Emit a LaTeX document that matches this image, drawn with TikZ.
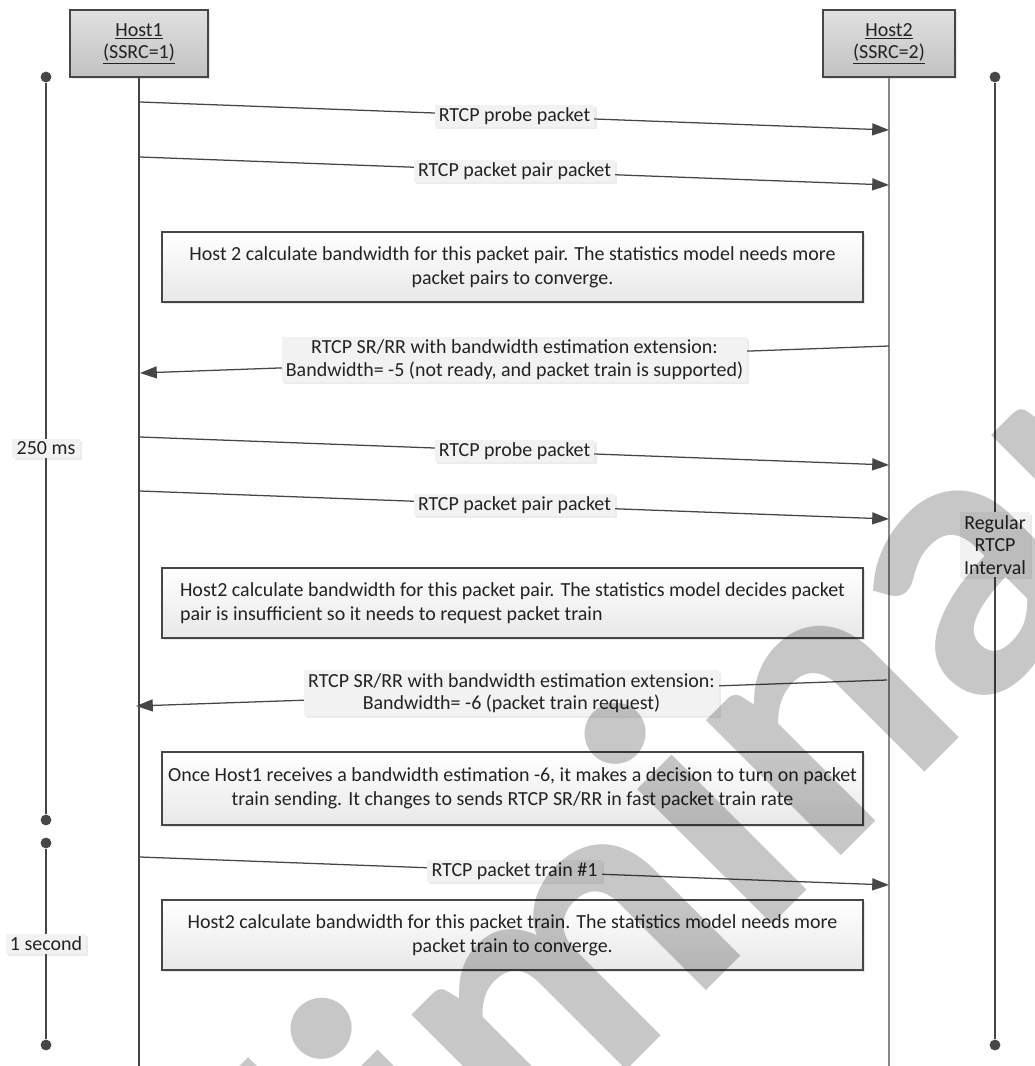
\documentclass[tikz,border=0pt]{standalone}
\usepackage{fontspec}
\setmainfont{Carlito}
\usetikzlibrary{arrows.meta, positioning, calc, shadows}
\definecolor{seqdark}{RGB}{70,70,70}
\definecolor{seqgray}{RGB}{135,135,135}
\definecolor{seqtext}{RGB}{35,35,35}
\tikzset{
  hostbox/.style={rectangle, draw=seqdark, line width=1pt, top color=black!12, bottom color=black!24, minimum height=1.675cm, align=center, text=seqtext, font=\fontsize{14.2}{15.6}\selectfont, drop shadow={shadow xshift=1.5pt, shadow yshift=-1.5pt, opacity=0.2}},
  notebox/.style={rectangle, draw=seqdark, line width=1pt, top color=white, bottom color=black!9, minimum width=17.525cm, minimum height=1.75cm, inner xsep=1pt, text=seqtext, font=\fontsize{14.2}{17}\selectfont, drop shadow={shadow xshift=1.5pt, shadow yshift=-1.5pt, opacity=0.2}},
  msglabel/.style={fill=black!5, inner xsep=3pt, inner ysep=2pt, align=center, text=seqtext, font=\fontsize{14.2}{16}\selectfont, drop shadow={shadow xshift=1.5pt, shadow yshift=-1.5pt, opacity=0.15}},
  msg/.style={draw=seqdark, line width=0.9pt, -{Triangle[length=0.42cm, width=0.3cm]}},
  lifeone/.style={draw=seqdark, line width=0.9pt},
  lifetwo/.style={draw=seqgray, line width=1.3pt},
  tick/.style={circle, fill=seqdark, inner sep=0pt, minimum size=0.27cm},
  scaleline/.style={draw=seqdark, line width=1pt},
  watermark/.style={text=black, text opacity=0.22, font=\fontsize{280}{280}\selectfont\bfseries}
}

\begin{document}
\begin{tikzpicture}[x=0.025cm, y=-0.025cm]
  \useasboundingbox (0,0) rectangle (1034,1066);
  % hosts and lifelines
  \node (host1) [hostbox, minimum width=3.45cm] at (139,43.5) {\underline{Host1}\\\underline{(SSRC=1)}};
  \node (host2) [hostbox, minimum width=3.3cm] at (889,43.5) {\underline{Host2}\\\underline{(SSRC=2)}};
  \coordinate (bottom) at (0,1066);
  \draw [lifeone] (host1.south) -- (host1.south |- bottom);
  \draw [lifetwo] (host2.south) -- (host2.south |- bottom);

  % time scales
  \node (t1a) [tick] at (46,77) {};
  \node (t1b) [tick] at (46,820) {};
  \node (t2a) [tick] at (46,843) {};
  \node (t2b) [tick] at (46,1045) {};
  \node (t3a) [tick] at (995,77) {};
  \node (t3b) [tick] at (995,1045) {};
  \draw [scaleline] (t1a) -- node [msglabel] (ms250) {250 ms} (t1b);
  \draw [scaleline] (t2a) -- node [msglabel] (sec1) {1 second} (t2b);
  \draw [scaleline] (t3a) -- node [msglabel, pos=0.483] (rtcpint) {Regular\\RTCP\\Interval} (t3b);

  % message ends
  \coordinate (m1s) at (140,102);  \coordinate (m1e) at (889,130);
  \coordinate (m2s) at (140,157);  \coordinate (m2e) at (889,185);
  \coordinate (r1s) at (889,346);  \coordinate (r1e) at (140,373);
  \coordinate (m3s) at (140,437);  \coordinate (m3e) at (889,465);
  \coordinate (m4s) at (140,491);  \coordinate (m4e) at (889,519);
  \coordinate (r2s) at (887,680);  \coordinate (r2e) at (136,706);
  \coordinate (m5s) at (140,857);  \coordinate (m5e) at (889,885);

  \draw [msg] (m1s) -- node [msglabel] (l1) {RTCP probe packet} (m1e);
  \draw [msg] (m2s) -- node [msglabel] (l2) {RTCP packet pair packet} (m2e);
  \node (n1) [notebox, align=center] at (512.5,267) {Host 2 calculate bandwidth for this packet pair. The statistics model needs more\\packet pairs to converge.};
  \draw [msg] (r1s) -- node [msglabel] (l3) {RTCP SR/RR with bandwidth estimation extension:\\Bandwidth= -5 (not ready, and packet train is supported)} (r1e);
  \draw [msg] (m3s) -- node [msglabel] (l4) {RTCP probe packet} (m3e);
  \draw [msg] (m4s) -- node [msglabel] (l5) {RTCP packet pair packet} (m4e);
  \node (n2) [notebox, align=left] at (512.5,603) {Host2 calculate bandwidth for this packet pair. The statistics model decides packet\\pair is insufficient so it needs to request packet train};
  \draw [msg] (r2s) -- node [msglabel] (l6) {RTCP SR/RR with bandwidth estimation extension:\\Bandwidth= -6 (packet train request)} (r2e);
  \node (n3) [notebox, align=center, minimum height=1.825cm] at (512.5,788.5) {Once Host1 receives a bandwidth estimation -6, it makes a decision to turn on packet\\train sending. It changes to sends RTCP SR/RR in fast packet train rate};
  \draw [msg] (m5s) -- node [msglabel] (l7) {RTCP packet train \#1} (m5e);
  \node (n4) [notebox, align=center] at (512.5,935) {Host2 calculate bandwidth for this packet train. The statistics model needs more\\packet train to converge.};

  % watermark
  \begin{scope}
    \clip (0,0) rectangle (1034,1066);
    \node (wm) [watermark, anchor=base west, rotate=45, inner sep=0pt] at (7,1690) {preliminary};
  \end{scope}
\end{tikzpicture}
\end{document}
